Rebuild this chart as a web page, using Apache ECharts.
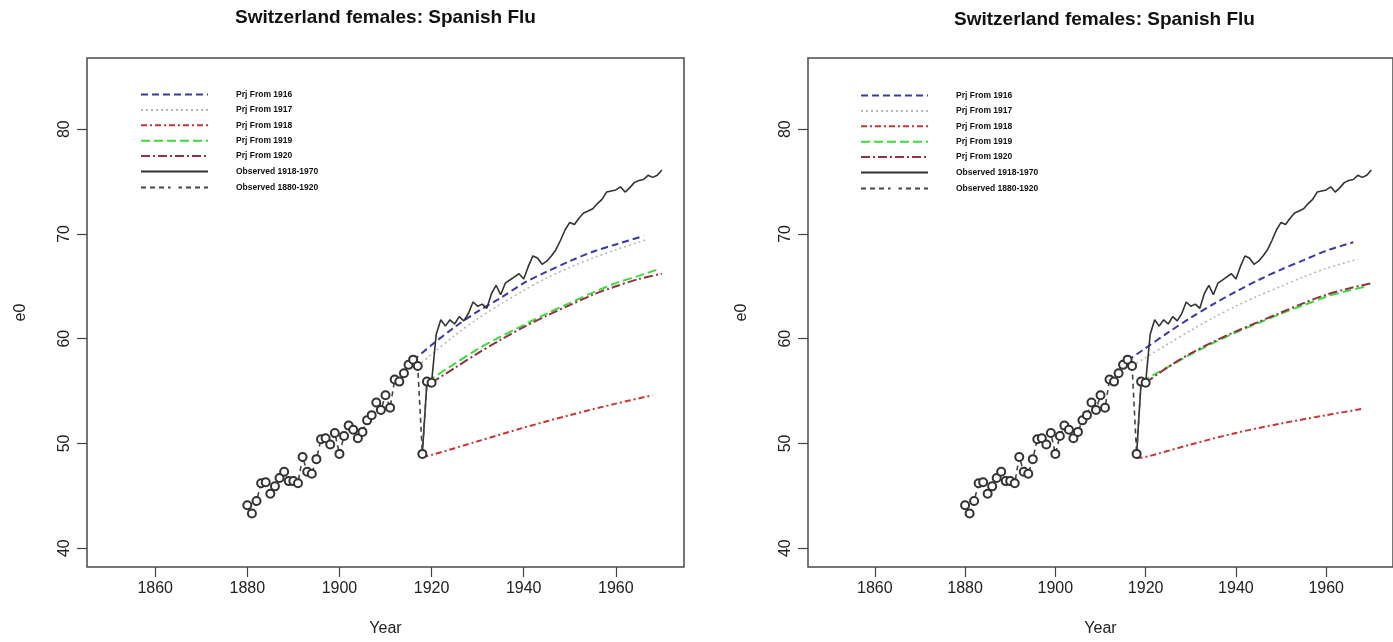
<!DOCTYPE html>
<html>
<head>
<meta charset="utf-8">
<script src="https://cdn.jsdelivr.net/npm/echarts@6/dist/echarts.min.js"></script>
<style>
html,body{margin:0;padding:0;background:#fff;}
#chart{width:1393px;height:642px;}
</style>
</head>
<body>
<div id="chart"></div>
<script>
// ---------- DATA ----------
const titleText = 'Switzerland females: Spanish Flu';
const xTicks = [1860, 1880, 1900, 1920, 1940, 1960];
const yTicks = [40, 50, 60, 70, 80];
const legendNames = ['Prj From 1916', 'Prj From 1917', 'Prj From 1918', 'Prj From 1919', 'Prj From 1920', 'Observed 1918-1970', 'Observed 1880-1920'];

const obsEarlyYears = [1880,1881,1882,1883,1884,1885,1886,1887,1888,1889,1890,1891,1892,1893,1894,1895,1896,1897,1898,1899,1900,1901,1902,1903,1904,1905,1906,1907,1908,1909,1910,1911,1912,1913,1914,1915,1916,1917,1918,1919,1920];
const obsEarly = [44.1,43.3,44.5,46.2,46.3,45.2,45.9,46.7,47.3,46.4,46.4,46.2,48.7,47.3,47.1,48.5,50.4,50.5,49.9,51.0,49.0,50.7,51.7,51.3,50.5,51.1,52.2,52.7,53.9,53.2,54.6,53.4,56.1,55.9,56.7,57.5,58.0,57.4,49.0,55.9,55.8];

const obsLateYears = [1918,1919,1920,1921,1922,1923,1924,1925,1926,1927,1928,1929,1930,1931,1932,1933,1934,1935,1936,1937,1938,1939,1940,1941,1942,1943,1944,1945,1946,1947,1948,1949,1950,1951,1952,1953,1954,1955,1956,1957,1958,1959,1960,1961,1962,1963,1964,1965,1966,1967,1968,1969,1970];
const obsLate = [49.0,55.9,55.8,60.4,61.8,61.2,61.8,61.4,62.1,61.7,62.4,63.5,63.1,63.3,62.9,64.3,65.1,64.2,65.3,65.6,65.9,66.2,65.7,66.9,67.9,67.7,67.1,67.4,67.9,68.5,69.4,70.4,71.1,70.9,71.5,72.0,72.2,72.4,72.9,73.3,74.0,74.1,74.2,74.5,74.0,74.4,74.9,75.1,75.2,75.6,75.4,75.6,76.1];

const yrs1916 = [1916,1920,1925,1930,1935,1940,1945,1950,1955,1960,1966];
const yrs1917 = [1917,1920,1925,1930,1935,1940,1945,1950,1955,1960,1967];
const yrs1918 = [1918,1920,1930,1940,1950,1960,1968];
const yrs1919 = [1919,1925,1930,1935,1940,1945,1950,1955,1960,1965,1969];
const yrs1920 = [1920,1925,1930,1935,1940,1945,1950,1955,1960,1965,1970];

// left panel projections
const left1916 = [57.9,59.4,61.1,62.6,63.9,65.3,66.4,67.4,68.3,69.0,69.8];
const left1917 = [57.4,58.5,60.3,61.9,63.3,64.6,65.8,66.8,67.7,68.5,69.5];
const left1918 = [48.7,48.9,50.2,51.5,52.7,53.8,54.6];
const left1919 = [55.9,57.6,59.0,60.2,61.3,62.4,63.4,64.4,65.3,66.0,66.6];
const left1920 = [55.8,57.2,58.6,59.9,61.1,62.2,63.2,64.2,65.0,65.7,66.2];

// right panel projections
const right1916 = [57.9,59.1,60.6,62.0,63.3,64.5,65.6,66.6,67.5,68.4,69.2];
const right1917 = [57.4,58.2,59.5,60.8,62.0,63.1,64.1,65.0,65.9,66.7,67.6];
const right1918 = [48.6,48.7,49.9,51.0,51.9,52.7,53.3];
const right1919 = [55.9,57.3,58.5,59.6,60.6,61.5,62.4,63.2,64.0,64.6,65.0];
const right1920 = [55.8,57.3,58.6,59.7,60.7,61.6,62.5,63.4,64.2,64.8,65.3];

// ---------- CHART ----------
const FONT = '"Liberation Sans", Arial, sans-serif';
const LEGFONT = '"Liberation Sans", Arial, sans-serif';
const pairs = (xs, ys) => xs.map((x, i) => [x, ys[i]]);

const styles = {
  'Prj From 1916': {color: '#3a3aa8', type: [7, 4], width: 2},
  'Prj From 1917': {color: '#b8b8b8', type: [2, 3], width: 1.6},
  'Prj From 1918': {color: '#cc3535', type: [6, 3, 2, 3], width: 2},
  'Prj From 1919': {color: '#3ddc3d', type: [9, 4], width: 2},
  'Prj From 1920': {color: '#8f3440', type: [9, 3, 2, 3], width: 2},
  'Observed 1918-1970': {color: '#333333', type: 'solid', width: 1.6},
  'Observed 1880-1920': {color: '#444444', type: [5, 4], width: 1.6}
};

const panels = [
  {left: 87, width: 597, prj: [left1916, left1917, left1918, left1919, left1920], legLeft: 140, legTop: 90, titleTop: 8},
  {left: 808, width: 593, prj: [right1916, right1917, right1918, right1919, right1920], legLeft: 860, legTop: 91, titleTop: 10}
];
const prjYears = [yrs1916, yrs1917, yrs1918, yrs1919, yrs1920];
const plain = v => String(v);

const grids = [], xAxes = [], yAxes = [], series = [], titles = [], legends = [];
panels.forEach((p, k) => {
  grids.push({left: p.left, top: 58, width: p.width, height: 512, show: true,
    borderColor: '#4a4a4a', borderWidth: 1.5, backgroundColor: 'transparent'});
  titles.push({text: titleText, left: p.left + p.width / 2, top: p.titleTop, textAlign: 'center', padding: 0,
    textStyle: {fontFamily: FONT, fontSize: 19, fontWeight: 'bold', color: '#111'}});
  xAxes.push({gridIndex: k, type: 'value', min: 1845.2, max: 1974.8,
    name: 'Year', nameLocation: 'middle', nameGap: 54,
    nameTextStyle: {fontFamily: FONT, fontSize: 16, color: '#222'},
    axisLine: {show: false, onZero: false},
    axisTick: {show: true, length: 10, customValues: xTicks, lineStyle: {color: '#444', width: 1.2}},
    axisLabel: {customValues: xTicks, formatter: plain, fontFamily: FONT, fontSize: 16, color: '#222', margin: 14},
    splitLine: {show: false}});
  yAxes.push({gridIndex: k, type: 'value', min: 38.2, max: 86.8,
    name: 'e0', nameLocation: 'middle', nameGap: 58, nameRotate: 90,
    nameTextStyle: {fontFamily: FONT, fontSize: 16, color: '#222'},
    axisLine: {show: false, onZero: false},
    axisTick: {show: true, length: 10, customValues: yTicks, lineStyle: {color: '#444', width: 1.2}},
    axisLabel: {customValues: yTicks, formatter: plain, rotate: 90, fontFamily: FONT, fontSize: 16, color: '#222', margin: 14},
    splitLine: {show: false}});
  p.prj.forEach((vals, j) => {
    const nm = legendNames[j];
    const st = styles[nm];
    series.push({name: nm, type: 'line', xAxisIndex: k, yAxisIndex: k,
      data: pairs(prjYears[j], vals), symbol: 'none', smooth: 0.3,
      lineStyle: {color: st.color, type: st.type, width: st.width}, itemStyle: {color: st.color}, z: 3});
  });
  const sL = styles['Observed 1918-1970'];
  series.push({name: 'Observed 1918-1970', type: 'line', xAxisIndex: k, yAxisIndex: k,
    data: pairs(obsLateYears, obsLate), symbol: 'none',
    lineStyle: {color: sL.color, type: sL.type, width: sL.width}, itemStyle: {color: sL.color}, z: 4});
  const sE = styles['Observed 1880-1920'];
  series.push({name: 'Observed 1880-1920', type: 'line', xAxisIndex: k, yAxisIndex: k,
    data: pairs(obsEarlyYears, obsEarly), symbol: 'emptyCircle', symbolSize: 8, showSymbol: true,
    lineStyle: {color: sE.color, type: sE.type, width: sE.width},
    itemStyle: {color: '#333333', borderColor: '#333333', borderWidth: 1}, z: 5});
  legends.push({left: p.legLeft, top: p.legTop, orient: 'vertical', itemWidth: 67, itemHeight: 10, itemGap: 6.4,
    selectedMode: false, data: legendNames, padding: 0,
    itemStyle: {color: 'rgba(0,0,0,0)', borderColor: 'rgba(0,0,0,0)', borderWidth: 0},
    textStyle: {fontFamily: LEGFONT, fontSize: 8.5, fontWeight: 'bold', color: '#111', padding: [0, 0, 0, 23]}});
});

const chart = echarts.init(document.getElementById('chart'), null, {renderer: 'canvas'});
chart.setOption({
  animation: false,
  backgroundColor: '#ffffff',
  title: titles,
  legend: legends,
  grid: grids,
  xAxis: xAxes,
  yAxis: yAxes,
  series: series
});
</script>
</body>
</html>
